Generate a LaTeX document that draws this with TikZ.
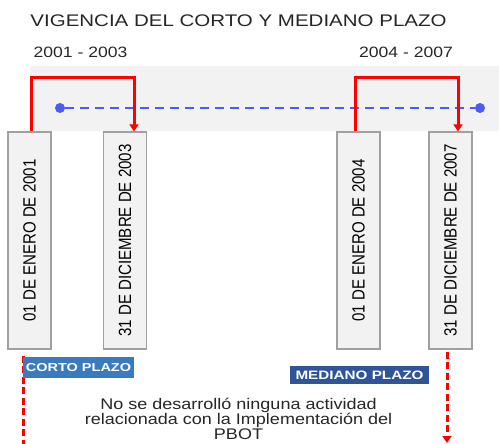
\documentclass[tikz,border=0pt]{standalone}
\usepackage{fontspec}
\setmainfont{Liberation Sans}
\newfontfamily\titlefont[FakeStretch=1.22]{Liberation Sans}
\newfontfamily\widefont[FakeStretch=1.17]{Liberation Sans}
\newfontfamily\boxfont[FakeStretch=0.85]{Liberation Sans}
\newfontfamily\labfont[FakeStretch=1.25]{Liberation Sans}
\usetikzlibrary{arrows.meta,calc}
\definecolor{bandgray}{HTML}{F2F2F2}
\definecolor{boxborder}{HTML}{A0A0A0}
\definecolor{tlblue}{HTML}{4A5CF5}
\definecolor{cortoblue}{HTML}{3A7BBF}
\definecolor{medblue}{HTML}{2F5597}
\definecolor{txtgray}{HTML}{262626}
\tikzset{
  datebox/.style={draw=boxborder, line width=1.3pt, fill=bandgray, minimum width=43pt, minimum height=217pt, inner sep=0pt},
  redline/.style={draw=red, line width=3pt},
  redarrow/.style={redline, -{Triangle[width=9pt,length=7pt]}},
  reddash/.style={redline, dash pattern=on 7pt off 3.5pt},
  bluedash/.style={draw=tlblue, line width=2pt, dash pattern=on 9pt off 6pt},
  dot/.style={circle, fill=tlblue, inner sep=0pt, minimum size=10pt},
  plazo/.style={text=white, inner sep=0pt},
}
\begin{document}
\begin{tikzpicture}[x=1pt,y=-1pt]
\useasboundingbox (0,0) rectangle (499,444);
% band
\fill[bandgray] (30,66) rectangle (499,131);
% title and years
\node[anchor=base, inner sep=0pt, text=txtgray, font=\titlefont\fontsize{16.8}{20}\selectfont] (title) at (238.5,27) {VIGENCIA DEL CORTO Y MEDIANO PLAZO};
\node[anchor=base, inner sep=0pt, text=txtgray, font=\widefont\fontsize{15}{18}\selectfont] (y1) at (80.5,58) {2001 - 2003};
\node[anchor=base, inner sep=0pt, text=txtgray, font=\widefont\fontsize{15}{18}\selectfont] (y2) at (406,58) {2004 - 2007};
% timeline
\node[dot] (d1) at (60,108) {};
\node[dot] (d2) at (480,108) {};
\draw[bluedash] (d1) -- (d2);
% boxes
\node[datebox] (b1) at (29.5,240.5) {\rotatebox{90}{\boxfont\fontsize{17.7}{20}\selectfont 01 DE ENERO DE 2001}};
\node[datebox] (b2) at (125,240.5) {\rotatebox{90}{\boxfont\fontsize{17.7}{20}\selectfont 31 DE DICIEMBRE DE 2003}};
\node[datebox] (b3) at (358.5,240.5) {\rotatebox{90}{\boxfont\fontsize{17.7}{20}\selectfont 01 DE ENERO DE 2004}};
\node[datebox] (b4) at (450.5,240.5) {\rotatebox{90}{\boxfont\fontsize{17.7}{20}\selectfont 31 DE DICIEMBRE DE 2007}};
% red elbow arrows
\draw[redarrow] ([xshift=1.5pt]b1.north) |- ([xshift=9pt]b2.north |- 0,78) -- ([xshift=9pt]b2.north);
\draw[redarrow] ([xshift=-3.5pt]b3.north) |- ([xshift=7.5pt]b4.north |- 0,78) -- ([xshift=7.5pt]b4.north);
% dashed lines below
\coordinate (e1) at (23,444);
\coordinate (e2) at (447,443);
\draw[reddash] ([xshift=-6.5pt,yshift=-6pt]b1.south) -- (e1);
\draw[reddash, -{Triangle[width=9pt,length=7pt]}] ([xshift=-3.5pt,yshift=-2pt]b4.south) -- (e2);
% labels
\node[plazo, fill=cortoblue, minimum width=111pt, minimum height=21pt, font=\labfont\bfseries\fontsize{11.6}{13}\selectfont] (corto) at (78.5,367.5) {CORTO PLAZO};
\node[plazo, fill=medblue, minimum width=139pt, minimum height=18pt, font=\labfont\bfseries\fontsize{12.2}{14}\selectfont] (mediano) at (359.5,375) {MEDIANO PLAZO};
% note
\node[anchor=north, inner sep=0pt, align=center, text=txtgray, font=\widefont\fontsize{15.4}{15}\selectfont] (note) at (238.5,398) {No se desarrolló ninguna actividad\\relacionada con la Implementación del\\PBOT};
\end{tikzpicture}
\end{document}
